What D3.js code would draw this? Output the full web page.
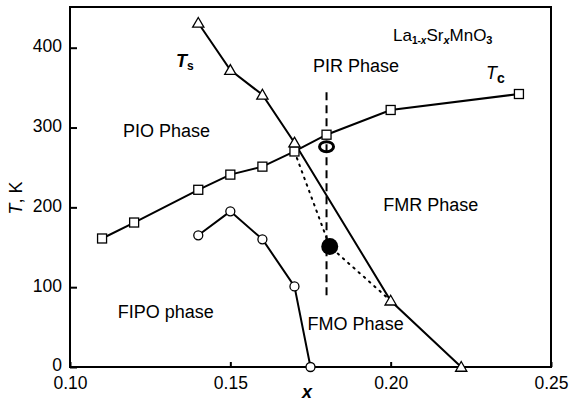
<!DOCTYPE html>
<html>
<head>
<meta charset="utf-8">
<script src="https://cdn.jsdelivr.net/npm/d3@7"></script>
<style>
  body { margin: 0; background: #fff; }
  svg { display: block; font-family: "Liberation Sans", Arial, sans-serif; }
</style>
</head>
<body>
<div id="chart"></div>
<script>
// Tc curve (squares)
const tcX = [0.11, 0.12, 0.14, 0.15, 0.16, 0.17, 0.18, 0.20, 0.24];
const tcT = [161, 181, 222, 241, 251, 270, 291, 322, 342];
// Ts curve (triangles)
const tsX = [0.14, 0.15, 0.16, 0.17, 0.20, 0.222];
const tsT = [431, 372, 341, 281, 83, 0];
// FIPO boundary (open circles)
const fipoX = [0.14, 0.15, 0.16, 0.17, 0.175];
const fipoT = [165, 195, 160, 101, 0];
// dotted boundary through the black point
const dotX = [0.17, 0.181, 0.20];
const dotT = [270, 151, 83];
// dashed vertical at x = 0.18
const dashX = [0.18, 0.18];
const dashT = [90, 350];
const solidPt = [0.181, 151];
const openPt = [0.18, 276];

const xTicks = [0.10, 0.15, 0.20, 0.25];
const yTicks = [0, 100, 200, 300, 400];

const phaseLabels = [
    {text: "PIO Phase", x: 0.1165, t: 288},
    {text: "PIR Phase", x: 0.1758, t: 369},
    {text: "FMR Phase", x: 0.1977, t: 196},
    {text: "FIPO phase", x: 0.1149, t: 61},
    {text: "FMO Phase", x: 0.1741, t: 46}
];

const width = 570, height = 403;
const margin = {left: 70, right: 19, top: 7, bottom: 36};

const svg = d3.select("#chart").append("svg")
    .attr("width", width).attr("height", height);

const x = d3.scaleLinear().domain([0.10, 0.25])
    .range([margin.left, width - margin.right]);
const y = d3.scaleLinear().domain([0, 451])
    .range([height - margin.bottom, margin.top]);

const zip = (xs, ts) => xs.map((v, i) => [v, ts[i]]);
const line = d3.line().x(d => x(d[0])).y(d => y(d[1]));

// frame
svg.append("rect")
    .attr("x", x(0.10)).attr("y", y(451))
    .attr("width", x(0.25) - x(0.10)).attr("height", y(0) - y(451))
    .attr("fill", "none").attr("stroke", "#000").attr("stroke-width", 2);

// axes with inward ticks
const xAxis = svg.append("g")
    .attr("transform", `translate(0,${y(0)})`)
    .call(d3.axisBottom(x).tickValues(xTicks).tickFormat(d3.format(".2f"))
        .tickSizeInner(-5).tickSizeOuter(0).tickPadding(10));
const yAxis = svg.append("g")
    .attr("transform", `translate(${x(0.10)},0)`)
    .call(d3.axisLeft(y).tickValues(yTicks)
        .tickSizeInner(-7).tickSizeOuter(0).tickPadding(8));
[xAxis, yAxis].forEach(g => {
    g.select(".domain").remove();
    g.selectAll("line").attr("stroke", "#000").attr("stroke-width", 2);
    g.selectAll("text").attr("fill", "#000")
        .style("font-size", "17.5px").style("font-family", "Liberation Sans, Arial, sans-serif");
});
yAxis.selectAll("text").attr("dy", "0.22em");

// axis titles
svg.append("text")
    .attr("transform", `translate(22,198) rotate(-90)`)
    .attr("text-anchor", "middle")
    .style("font-size", "18px")
    .html('<tspan font-style="italic">T</tspan>, K');
svg.append("text")
    .attr("x", 307).attr("y", 398)
    .attr("text-anchor", "middle")
    .style("font-size", "18px").style("font-weight", "bold").style("font-style", "italic")
    .text("x");

// boundary lines
[[tcX, tcT], [tsX, tsT], [fipoX, fipoT]].forEach(([xs, ts]) => {
    svg.append("path").datum(zip(xs, ts))
        .attr("d", line).attr("fill", "none")
        .attr("stroke", "#000").attr("stroke-width", 2);
});
svg.append("path").datum(zip(dotX, dotT))
    .attr("d", line).attr("fill", "none")
    .attr("stroke", "#000").attr("stroke-width", 2)
    .attr("stroke-dasharray", "1.5,5.5").attr("stroke-linecap", "round");
svg.append("path").datum(zip(dashX, dashT))
    .attr("d", line).attr("fill", "none")
    .attr("stroke", "#000").attr("stroke-width", 2)
    .attr("stroke-dasharray", "8,5");

// markers
svg.append("g").selectAll("rect").data(zip(tcX, tcT)).join("rect")
    .attr("x", d => x(d[0]) - 4.5).attr("y", d => y(d[1]) - 4.5)
    .attr("width", 9).attr("height", 9)
    .attr("fill", "#fff").attr("stroke", "#000").attr("stroke-width", 1.3);
const tri = d3.symbol().type(d3.symbolTriangle).size(55);
svg.append("g").selectAll("path").data(zip(tsX, tsT)).join("path")
    .attr("transform", d => `translate(${x(d[0])},${y(d[1]) + 1})`)
    .attr("d", tri)
    .attr("fill", "#fff").attr("stroke", "#000").attr("stroke-width", 1.3);
svg.append("g").selectAll("circle").data(zip(fipoX, fipoT)).join("circle")
    .attr("cx", d => x(d[0])).attr("cy", d => y(d[1]))
    .attr("r", 4.5)
    .attr("fill", "#fff").attr("stroke", "#000").attr("stroke-width", 1.3);

svg.append("circle")
    .attr("cx", x(solidPt[0])).attr("cy", y(solidPt[1])).attr("r", 8.5)
    .attr("fill", "#000");
svg.append("ellipse")
    .attr("cx", x(openPt[0])).attr("cy", y(openPt[1]))
    .attr("rx", 7).attr("ry", 5)
    .attr("fill", "none").attr("stroke", "#000").attr("stroke-width", 3);

// phase labels
svg.append("g").selectAll("text").data(phaseLabels).join("text")
    .attr("x", d => x(d.x)).attr("y", d => y(d.t))
    .style("font-size", "18px")
    .text(d => d.text);

// curve labels
svg.append("text")
    .attr("x", 176).attr("y", 67)
    .style("font-size", "18px").style("font-weight", "bold")
    .html('<tspan font-style="italic">T</tspan><tspan dy="3" font-size="12px">s</tspan>');
svg.append("text")
    .attr("x", 486).attr("y", 79)
    .style("font-size", "18px")
    .html('<tspan font-style="italic">T</tspan><tspan dy="4" font-size="14px" font-weight="bold">c</tspan>');

// compound label
svg.append("text")
    .attr("x", 393).attr("y", 41)
    .style("font-size", "17px")
    .html('La<tspan dy="3" font-size="10px" font-weight="bold">1-<tspan font-style="italic">x</tspan></tspan>'
        + '<tspan dy="-3">Sr</tspan><tspan dy="3" font-size="11px" font-weight="bold" font-style="italic">x</tspan>'
        + '<tspan dy="-3">MnO</tspan><tspan dy="3" font-size="11px" font-weight="bold">3</tspan>');
</script>
</body>
</html>
